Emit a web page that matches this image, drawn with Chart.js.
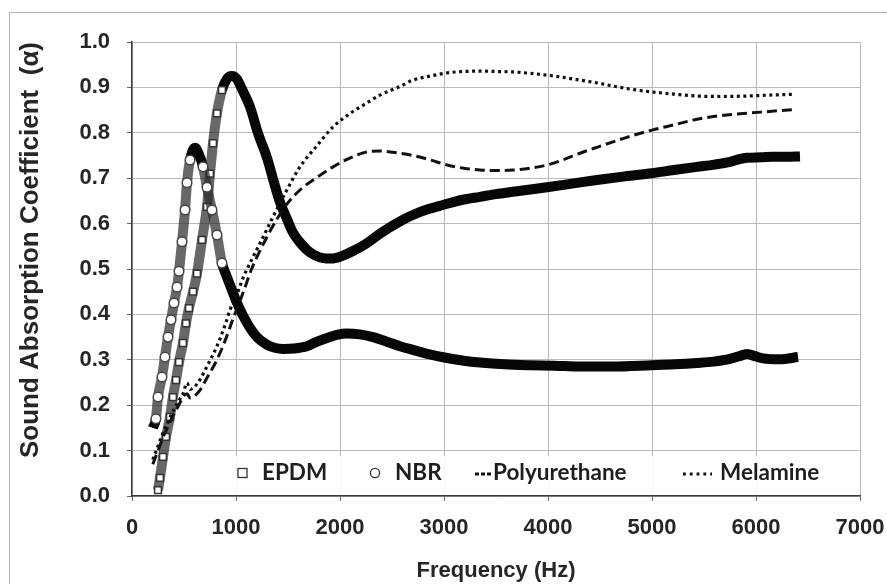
<!DOCTYPE html>
<html>
<head>
<meta charset="utf-8">
<script src="https://cdn.jsdelivr.net/npm/chart.js@4.4.1/dist/chart.umd.min.js"></script>
<style>
  html, body { margin: 0; padding: 0; background: #fff; }
  #wrap { width: 887px; height: 584px; position: relative; }
</style>
</head>
<body>
<div id="wrap"><canvas id="absChart"></canvas></div>
<script>
// values
var epdmFreq = [250, 269, 298, 327, 365, 394, 423, 452, 490, 519, 548, 587, 625, 673, 721, 750, 779, 817, 865, 910, 960, 1010, 1060, 1135, 1210, 1298, 1360, 1423, 1490, 1548, 1610, 1683, 1760, 1837, 1920, 2000, 2130, 2260, 2385, 2577, 2700, 2850, 2990, 3170, 3346, 3500, 3663, 3830, 3990, 4230, 4470, 4740, 5000, 5210, 5433, 5600, 5750, 5840, 5913, 6050, 6163, 6300, 6423];
var epdmAlpha = [0.013, 0.04, 0.086, 0.13, 0.174, 0.218, 0.255, 0.295, 0.337, 0.38, 0.414, 0.45, 0.49, 0.564, 0.637, 0.71, 0.777, 0.843, 0.894, 0.918, 0.925, 0.918, 0.895, 0.857, 0.8, 0.745, 0.695, 0.647, 0.61, 0.58, 0.56, 0.542, 0.53, 0.524, 0.523, 0.527, 0.54, 0.557, 0.578, 0.605, 0.619, 0.632, 0.641, 0.652, 0.659, 0.665, 0.67, 0.675, 0.68, 0.688, 0.696, 0.704, 0.711, 0.718, 0.725, 0.73, 0.736, 0.742, 0.745, 0.746, 0.747, 0.747, 0.748];

var nbrFreq = [200, 230, 250, 288, 317, 346, 375, 404, 433, 452, 481, 510, 529, 558, 606, 640, 683, 721, 769, 817, 865, 900, 942, 1010, 1106, 1202, 1300, 1380, 1452, 1560, 1683, 1780, 1875, 1970, 2067, 2190, 2317, 2450, 2577, 2700, 2860, 3030, 3190, 3346, 3580, 3827, 4060, 4308, 4625, 5000, 5220, 5433, 5590, 5750, 5840, 5913, 5990, 6067, 6230, 6404];
var nbrAlpha = [0.15, 0.17, 0.218, 0.262, 0.306, 0.35, 0.388, 0.425, 0.46, 0.495, 0.56, 0.63, 0.69, 0.74, 0.767, 0.755, 0.725, 0.68, 0.63, 0.575, 0.513, 0.49, 0.465, 0.425, 0.381, 0.35, 0.333, 0.326, 0.324, 0.325, 0.33, 0.34, 0.348, 0.355, 0.358, 0.356, 0.35, 0.34, 0.33, 0.322, 0.312, 0.304, 0.298, 0.294, 0.29, 0.288, 0.287, 0.285, 0.285, 0.288, 0.29, 0.293, 0.296, 0.302, 0.308, 0.313, 0.308, 0.303, 0.301, 0.306];

var puFreq = [200, 250, 300, 350, 400, 450, 490, 530, 557, 600, 654, 720, 817, 900, 971, 1067, 1150, 1230, 1356, 1480, 1615, 1780, 1933, 2100, 2260, 2385, 2510, 2700, 2870, 3030, 3190, 3346, 3500, 3663, 3830, 3990, 4150, 4308, 4470, 4625, 4800, 5000, 5220, 5433, 5670, 5913, 6130, 6346];
var puAlpha = [0.07, 0.1, 0.13, 0.155, 0.18, 0.2, 0.218, 0.225, 0.216, 0.22, 0.233, 0.26, 0.3, 0.345, 0.39, 0.447, 0.5, 0.54, 0.595, 0.64, 0.674, 0.702, 0.725, 0.745, 0.758, 0.76, 0.757, 0.75, 0.74, 0.729, 0.722, 0.718, 0.717, 0.718, 0.722, 0.729, 0.741, 0.755, 0.768, 0.78, 0.793, 0.806, 0.818, 0.83, 0.838, 0.843, 0.847, 0.851];

var melFreq = [200, 250, 300, 350, 400, 450, 490, 529, 560, 600, 650, 720, 817, 900, 942, 1010, 1067, 1150, 1260, 1356, 1480, 1615, 1780, 1933, 2100, 2260, 2385, 2577, 2700, 2870, 3030, 3190, 3346, 3500, 3663, 3830, 3990, 4150, 4308, 4470, 4625, 4800, 5000, 5220, 5433, 5670, 5913, 6130, 6375];
var melAlpha = [0.08, 0.11, 0.14, 0.165, 0.19, 0.21, 0.225, 0.249, 0.235, 0.24, 0.255, 0.285, 0.33, 0.38, 0.41, 0.445, 0.48, 0.52, 0.57, 0.615, 0.67, 0.725, 0.772, 0.813, 0.843, 0.866, 0.883, 0.902, 0.916, 0.925, 0.932, 0.935, 0.936, 0.935, 0.934, 0.931, 0.927, 0.922, 0.916, 0.91, 0.903, 0.896, 0.89, 0.885, 0.881, 0.88, 0.881, 0.883, 0.885];

var seriesNames = ['EPDM', 'NBR', 'Polyurethane', 'Melamine'];
var yTitle = 'Sound Absorption Coefficient  (α)';

function toPoints(xs, ys){
  return xs.map(function(x, i){ return {x: x, y: ys[i]} });
}

var STEEP = 3.6;

// pixel slope between two data points
function pxSlope(chart, a, b){
  var xs = chart.scales.x, ys = chart.scales.y;
  var dx = Math.abs(xs.getPixelForValue(b.x) - xs.getPixelForValue(a.x));
  var dy = Math.abs(ys.getPixelForValue(b.y) - ys.getPixelForValue(a.y));
  return dy / Math.max(dx, 0.01);
}

function markerRadius(c){
  var d = c.dataset.data, i = c.dataIndex;
  if(!c.chart.scales.x) return 0;
  var s = 0;
  if(i > 0) s = Math.max(s, pxSlope(c.chart, d[i-1], d[i]));
  if(i < d.length - 1) s = Math.max(s, pxSlope(c.chart, d[i], d[i+1]));
  return s > STEEP ? 4.8 : 0;
}

function bandColor(c){
  var dx = Math.abs(c.p1.x - c.p0.x), dy = Math.abs(c.p1.y - c.p0.y);
  return dy > STEEP * dx ? 'rgba(40,40,40,0.7)' : '#070707';
}

var framePlugin = {
  id: 'frame',
  beforeDraw: function(chart){
    var ctx = chart.ctx;
    ctx.save();
    ctx.fillStyle = '#fff';
    ctx.fillRect(0, 0, chart.width, chart.height);
    ctx.strokeStyle = '#b4b4b4';
    ctx.lineWidth = 1;
    ctx.strokeRect(9.5, 12.5, chart.width + 10, chart.height + 10);
    ctx.restore();
  },
  afterDraw: function(chart){
    var ctx = chart.ctx;
    ctx.save();
    ctx.translate(31, 250);
    ctx.rotate(-Math.PI / 2);
    ctx.fillStyle = '#262626';
    ctx.font = 'bold 26px "Liberation Sans"';
    ctx.textAlign = 'center';
    ctx.textBaseline = 'middle';
    ctx.fillText(yTitle, 0, 0);
    ctx.restore();
  }
};

var legendPlugin = {
  id: 'innerLegend',
  afterDatasetsDraw: function(chart){
    var ctx = chart.ctx, a = chart.chartArea;
    var y = a.bottom - 23;
    ctx.save();
    ctx.fillStyle = 'rgba(255,255,255,0.85)';
    ctx.fillRect(a.left + 95, a.bottom - 40, 625, 39);
    ctx.strokeStyle = '#333';
    ctx.fillStyle = '#fff';
    ctx.lineWidth = 1.3;
    // square
    ctx.fillRect(a.left + 106, y - 4.5, 9, 9);
    ctx.strokeRect(a.left + 106, y - 4.5, 9, 9);
    // circle
    ctx.beginPath();
    ctx.arc(a.left + 243, y, 4.6, 0, Math.PI * 2);
    ctx.fill();
    ctx.stroke();
    // dashed sample
    ctx.strokeStyle = '#111';
    ctx.lineWidth = 2.8;
    ctx.setLineDash([4, 2]);
    ctx.beginPath();
    ctx.moveTo(a.left + 343, y + 1);
    ctx.lineTo(a.left + 360, y + 1);
    ctx.stroke();
    // dotted sample
    ctx.setLineDash([2.8, 4]);
    ctx.beginPath();
    ctx.moveTo(a.left + 551, y + 1);
    ctx.lineTo(a.left + 580, y + 1);
    ctx.stroke();
    ctx.setLineDash([]);
    ctx.fillStyle = '#1e1e1e';
    ctx.font = 'bold 22.5px Lato';
    ctx.textBaseline = 'middle';
    ctx.fillText(seriesNames[0], a.left + 130, y);
    ctx.fillText(seriesNames[1], a.left + 263, y);
    ctx.fillText(seriesNames[2], a.left + 361, y);
    ctx.fillText(seriesNames[3], a.left + 588, y);
    ctx.restore();
  }
};

var ctx = document.getElementById('absChart').getContext('2d');
var myChart = new Chart(ctx, {
  type: 'scatter',
  plugins: [framePlugin, legendPlugin],
  data: {
    datasets: [{
      label: seriesNames[0],
      data: toPoints(epdmFreq, epdmAlpha),
      showLine: true,
      borderWidth: 10,
      borderColor: '#070707',
      cubicInterpolationMode: 'monotone',
      segment: { borderColor: bandColor },
      pointStyle: 'rect',
      pointRadius: markerRadius,
      pointBackgroundColor: '#fff',
      pointBorderColor: '#333',
      pointBorderWidth: 1.5,
      order: 3
    },
    {
      label: seriesNames[1],
      data: toPoints(nbrFreq, nbrAlpha),
      showLine: true,
      borderWidth: 10,
      borderColor: '#070707',
      cubicInterpolationMode: 'monotone',
      segment: { borderColor: bandColor },
      pointStyle: 'circle',
      pointRadius: markerRadius,
      pointBackgroundColor: '#fff',
      pointBorderColor: '#444',
      pointBorderWidth: 1.5,
      order: 2
    },
    {
      label: seriesNames[2],
      data: toPoints(puFreq, puAlpha),
      showLine: true,
      borderWidth: 3,
      borderColor: '#111',
      borderDash: [10, 5],
      cubicInterpolationMode: 'monotone',
      pointRadius: 0,
      order: 1
    },
    {
      label: seriesNames[3],
      data: toPoints(melFreq, melAlpha),
      showLine: true,
      borderWidth: 3.2,
      borderColor: '#111',
      borderDash: [3, 3.5],
      cubicInterpolationMode: 'monotone',
      pointRadius: 0,
      order: 0
    }]
  },
  options: {
    responsive: true,
    maintainAspectRatio: false,
    animation: false,
    layout: {
      padding: { left: 0, top: 42, right: 27, bottom: 0 }
    },
    scales: {
      x: {
        type: 'linear',
        min: 0,
        max: 7000,
        afterFit: function(s){ s.height = 88; s.paddingLeft = 0; s.paddingRight = 0 },
        ticks: {
          stepSize: 1000,
          padding: 14,
          color: '#262626',
          font: { family: 'Liberation Sans', weight: 'bold', size: 22 },
          callback: function(v){ return String(v) }
        },
        grid: { color: '#b9b9b9', lineWidth: 1, tickLength: 5, tickColor: '#666' },
        border: { color: '#3c3c3c', width: 1.5 },
        title: {
          display: true,
          text: 'Frequency (Hz)',
          color: '#262626',
          padding: { top: 0, bottom: 0 },
          font: { family: 'Liberation Sans', weight: 'bold', size: 22 }
        }
      },
      y: {
        min: 0,
        max: 1,
        afterFit: function(s){ s.width = 132; s.paddingTop = 0; s.paddingBottom = 0 },
        ticks: {
          stepSize: 0.1,
          padding: 17,
          color: '#262626',
          font: { family: 'Liberation Sans', weight: 'bold', size: 22 },
          callback: function(v){ return v.toFixed(1) }
        },
        grid: { color: '#b9b9b9', lineWidth: 1, tickLength: 5, tickColor: '#666' },
        border: { color: '#3c3c3c', width: 1.5 }
      }
    },
    plugins: {
      legend: { display: false },
      tooltip: { enabled: false },
      title: { display: false }
    }
  }
});
</script>
</body>
</html>
